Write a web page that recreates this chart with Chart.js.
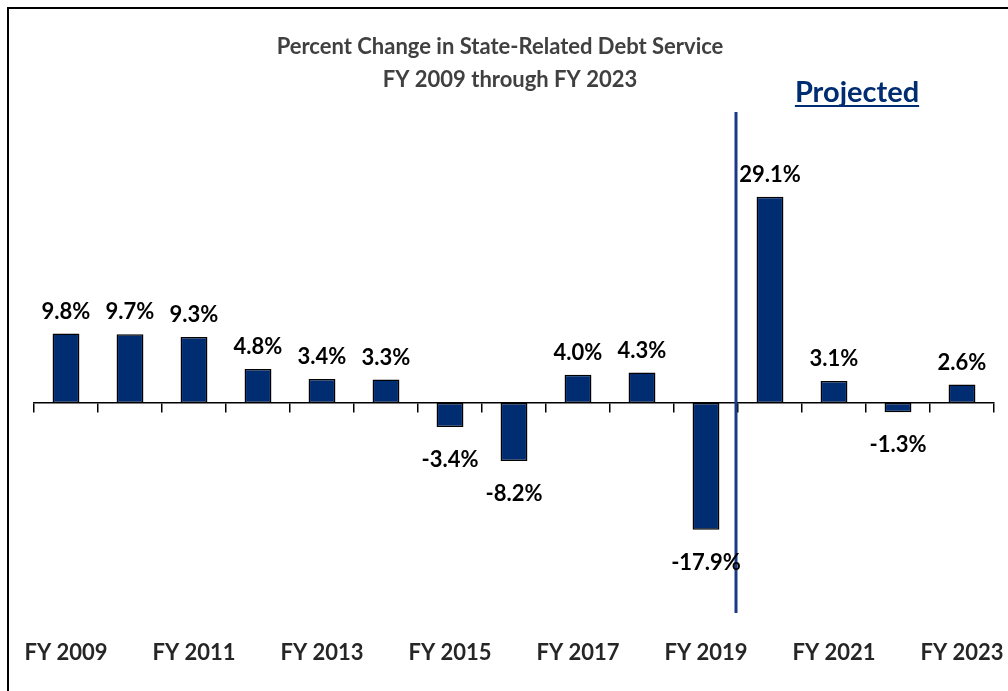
<!DOCTYPE html>
<html>
<head>
<meta charset="utf-8">
<script src="https://cdn.jsdelivr.net/npm/chart.js@4/dist/chart.umd.min.js"></script>
<style>
  html, body { margin: 0; padding: 0; background: #fff; }
  #wrap { position: relative; width: 1008px; height: 691px; }
</style>
</head>
<body>
<div id="wrap"><canvas id="debtChart" width="1008" height="691"></canvas></div>
<script>
// data
const fiscalYears = ['FY 2009', 'FY 2010', 'FY 2011', 'FY 2012', 'FY 2013', 'FY 2014', 'FY 2015',
  'FY 2016', 'FY 2017', 'FY 2018', 'FY 2019', 'FY 2020', 'FY 2021', 'FY 2022', 'FY 2023'];
const pctChange = [9.8, 9.7, 9.3, 4.8, 3.4, 3.3, -3.4, -8.2, 4.0, 4.3, -17.9, 29.1, 3.1, -1.3, 2.6];
const titleLines = ['Percent Change in State-Related Debt Service', 'FY 2009 through FY 2023'];
const projectedFrom = 'FY 2020';

const FONT = 'Lato, "Open Sans", sans-serif';
const NAVY = '#002C71';

// frame, title, "Projected" note, divider line and value labels
const decorations = {
  id: 'decorations',
  afterDraw(chart) {
    const ctx = chart.ctx;
    const x = chart.scales.x;
    ctx.save();

    // outer frame (only top + left are inside the picture)
    ctx.strokeStyle = '#000';
    ctx.lineWidth = 2;
    ctx.beginPath();
    ctx.moveTo(8, chart.height);
    ctx.lineTo(8, 8);
    ctx.lineTo(chart.width, 8);
    ctx.stroke();

    // title
    ctx.fillStyle = '#404040';
    ctx.font = `bold 22px ${FONT}`;
    ctx.textAlign = 'center';
    ctx.textBaseline = 'middle';
    ctx.fillText(titleLines[0], 500, 47);
    ctx.fillText(titleLines[1], 510, 80);

    // divider between actual and projected
    const idx = fiscalYears.indexOf(projectedFrom);
    const divX = (x.getPixelForValue(idx - 1) + x.getPixelForValue(idx)) / 2 - 2;
    ctx.strokeStyle = '#1A3A85';
    ctx.lineWidth = 3;
    ctx.beginPath();
    ctx.moveTo(divX, 112);
    ctx.lineTo(divX, 613);
    ctx.stroke();

    // "Projected" note
    ctx.fillStyle = NAVY;
    ctx.font = `bold 29px ${FONT}`;
    ctx.textBaseline = 'alphabetic';
    const pw = ctx.measureText('Projected').width;
    const px = 857;
    ctx.fillText('Projected', px, 102);
    ctx.fillRect(px - pw / 2, 105, pw, 2);

    // value labels
    ctx.fillStyle = '#000';
    ctx.font = `bold 22px ${FONT}`;
    ctx.textBaseline = 'middle';
    const meta = chart.getDatasetMeta(0);
    meta.data.forEach((bar, i) => {
      const v = pctChange[i];
      const ly = v >= 0 ? bar.y - 22 : bar.y + 33;
      ctx.fillText(v.toFixed(1) + '%', bar.x, ly);
    });
    ctx.restore();
  }
};

const ctx = document.getElementById('debtChart').getContext('2d');
new Chart(ctx, {
  type: 'bar',
  data: {
    labels: fiscalYears,
    datasets: [{
      data: pctChange,
      backgroundColor: NAVY,
      borderColor: '#000',
      borderWidth: 1.5,
      borderSkipped: false,
      categoryPercentage: 1,
      barPercentage: 0.42
    }]
  },
  options: {
    responsive: false,
    animation: false,
    layout: { padding: { top: 148, left: 34, right: 14, bottom: 15 } },
    plugins: { legend: { display: false }, tooltip: { enabled: false }, title: { display: false } },
    scales: {
      x: {
        position: 'bottom',
        grid: { display: false, drawTicks: false },
        border: { display: false },
        afterFit: (scale) => { scale.paddingLeft = 0; scale.paddingRight = 0; },
        ticks: {
          autoSkip: false,
          maxRotation: 0,
          padding: 10,
          color: '#262626',
          font: { family: FONT, size: 22, weight: 'bold' },
          callback: (val, i) => (i % 2 === 0 ? fiscalYears[i] : '')
        }
      },
      x2: {
        type: 'category',
        labels: fiscalYears,
        position: { y: 0 },
        offset: true,
        grid: { offset: true, drawOnChartArea: false, drawTicks: true, tickLength: 9, color: '#000', lineWidth: 1.5 },
        border: { display: true, color: '#000', width: 1.5 },
        ticks: { display: false }
      },
      y: {
        display: false,
        min: -32,
        max: 36
      }
    }
  },
  plugins: [decorations]
});
</script>
</body>
</html>
